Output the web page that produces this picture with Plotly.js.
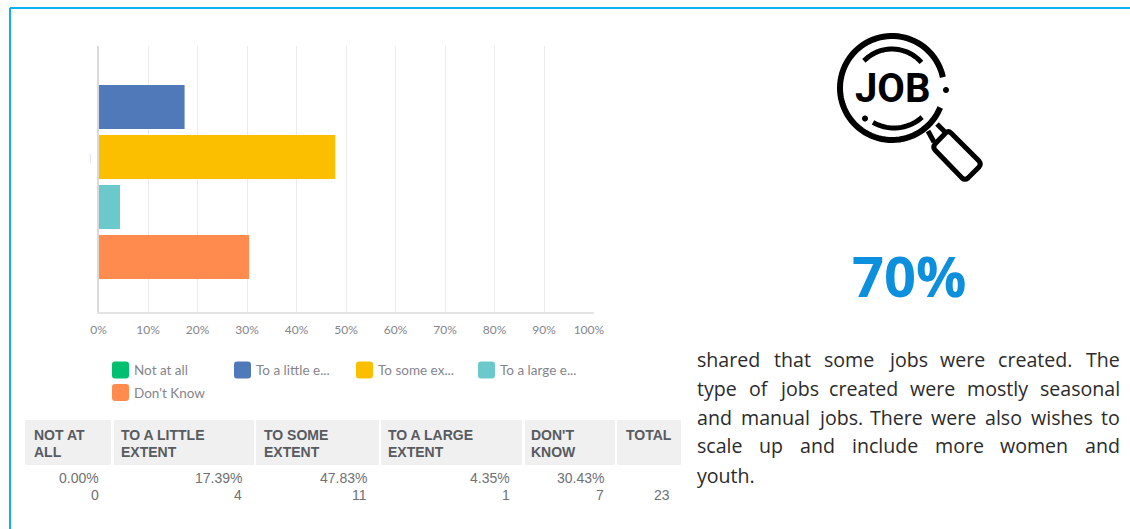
<!DOCTYPE html>
<html>
<head>
<meta charset="utf-8">
<script src="https://cdn.plot.ly/plotly-3.0.1.min.js"></script>
<style>html,body{margin:0;padding:0;background:#fff}#chart{width:1130px;height:529px}</style>
</head>
<body>
<div id="chart"></div>
<script>
// Survey responses
const answers = ["Not at all", "To a little extent", "To some extent", "To a large extent", "Don't Know"];
const percents = [0, 17.39, 47.83, 4.35, 30.43];
const counts = [0, 4, 11, 1, 7];
const total = 23;
const barColors = ["#00BF6F", "#4F79B8", "#FCBF00", "#6CC9CB", "#FF8B4F"];
const legendLabels = ["Not at all", "To a little e...", "To some ex...", "To a large e...", "Don't Know"];
const tickValues = [0, 10, 20, 30, 40, 50, 60, 70, 80, 90, 100];
const tickLabels = ["0%", "10%", "20%", "30%", "40%", "50%", "60%", "70%", "80%", "90%", "100%\u00A0\u00A0\u00A0"];

// Summary table
const headerLines = [["NOT AT", "ALL"], ["TO A LITTLE", "EXTENT"], ["TO SOME", "EXTENT"], ["TO A LARGE", "EXTENT"], ["DON'T", "KNOW"], ["TOTAL"]];
const headerCells = [[25, 111], [114, 254], [256, 379], [381, 522], [525, 615], [617, 681]];
const headerTextX = [34, 121, 264, 388, 531, 626];
const valueRightX = [99, 242, 367, 510, 604, 670];

// Side panel copy
const headline = "70%";
const bodyLines = [
  "shared that some jobs were created. The",
  "type of jobs created were mostly seasonal",
  "and manual jobs. There were also wishes to",
  "scale up and include more women and",
  "youth."
];

const W = 1130, H = 529;
const px = x => x / W;
const py = y => 1 - y / H;
const pt = (x, y) => `${px(x).toFixed(5)},${py(y).toFixed(5)}`;
const paperShape = o => Object.assign({xref: "paper", yref: "paper"}, o);

function label(x, y, text, o) {
  return Object.assign({
    xref: "paper", yref: "paper", x: px(x), y: py(y), text,
    showarrow: false, xanchor: "left", yanchor: "middle", borderpad: 0, borderwidth: 0
  }, o);
}

function rounded(x0, y0, x1, y1, r) {
  return `M ${pt(x0 + r, y0)} L ${pt(x1 - r, y0)} Q ${pt(x1, y0)} ${pt(x1, y0 + r)} L ${pt(x1, y1 - r)} ` +
         `Q ${pt(x1, y1)} ${pt(x1 - r, y1)} L ${pt(x0 + r, y1)} Q ${pt(x0, y1)} ${pt(x0, y1 - r)} ` +
         `L ${pt(x0, y0 + r)} Q ${pt(x0, y0)} ${pt(x0 + r, y0)} Z`;
}

function arc(cx, cy, r, fromDeg, toDeg) {
  const steps = Math.max(8, Math.round(Math.abs(toDeg - fromDeg) / 4));
  let d = "";
  for (let i = 0; i <= steps; i++) {
    const a = (fromDeg + (toDeg - fromDeg) * i / steps) * Math.PI / 180;
    d += (i ? " L " : "M ") + pt(cx + r * Math.cos(a), cy + r * Math.sin(a));
  }
  return d;
}

const shapes = [], annotations = [];

// Outer frame: only the top and left edges are visible
const frame = {color: "#0FB0F2", width: 2};
shapes.push(paperShape({type: "line", x0: px(10), x1: 1, y0: py(8), y1: py(8), line: frame}));
shapes.push(paperShape({type: "line", x0: px(10), x1: px(10), y0: py(8), y1: 0, line: frame}));

// Legend
const legendCols = [112, 234, 356, 478, 112];
const legendRows = [370, 370, 370, 370, 392.5];
legendLabels.forEach((t, i) => {
  const x = legendCols[i], y = legendRows[i];
  shapes.push(paperShape({type: "path", path: rounded(x, y - 8.5, x + 17, y + 8.5, 3), fillcolor: barColors[i], line: {width: 0}}));
  annotations.push(label(x + 22, y, t, {font: {family: "Lato", size: 13.5, color: "#85858C"}}));
});

// Table
const headFont = {family: "Liberation Sans", size: 14, color: "#585B60"};
const cellFont = {family: "Liberation Sans", size: 14, color: "#6F7175"};
headerCells.forEach((c, i) => {
  shapes.push(paperShape({type: "rect", x0: px(c[0]), x1: px(c[1]), y0: py(420), y1: py(465), fillcolor: "#F0F0F0", line: {width: 0}}));
  headerLines[i].forEach((t, j) => {
    annotations.push(label(headerTextX[i], 434.5 + j * 17, `<b>${t}</b>`, {font: headFont}));
  });
  const right = {xanchor: "right", font: cellFont};
  if (i < percents.length) {
    annotations.push(label(valueRightX[i], 478, percents[i].toFixed(2) + "%", right));
    annotations.push(label(valueRightX[i], 495, String(counts[i]), right));
  } else {
    annotations.push(label(valueRightX[i], 495, String(total), right));
  }
});

// Magnifying-glass icon
const ink = {color: "#000", width: 6};
const thin = {color: "#000", width: 5};
shapes.push(paperShape({type: "path", path: arc(892, 88, 52, 22, 348), line: ink}));
shapes.push(paperShape({type: "path", path: arc(892, 88, 39, 224, 319), line: thin}));
shapes.push(paperShape({type: "path", path: arc(894, 86, 42, 120, 48), line: thin}));
[[946, 90], [865, 118.5]].forEach(d => {
  shapes.push(paperShape({type: "path", path: arc(d[0], d[1], 3, 0, 360) + " Z", fillcolor: "#000", line: {width: 0}}));
});
shapes.push(paperShape({type: "path", path: `M ${pt(928, 131)} L ${pt(934, 142)}`, line: thin}));
shapes.push(paperShape({type: "path", path: `M ${pt(937, 124)} L ${pt(946, 133)}`, line: thin}));
shapes.push(paperShape({
  type: "path",
  path: `M ${pt(946, 132.5)} Q ${pt(948.5, 130.5)} ${pt(951, 133)} L ${pt(979, 161)} Q ${pt(981.5, 164)} ${pt(979, 167)} ` +
        `L ${pt(968, 178)} Q ${pt(965, 180.5)} ${pt(962, 178)} L ${pt(935, 150)} Q ${pt(932.5, 147)} ${pt(935, 144)} Z`,
  line: thin
}));
annotations.push(label(892.5, 88, "<b>JOB</b>", {xanchor: "center", font: {family: "Roboto", size: 40, color: "#000"}}));

// Headline figure
annotations.push(label(909, 275, `<b>${headline}</b>`, {xanchor: "center", font: {family: "Open Sans", size: 56, color: "#0C8FDD"}}));

// Justified body copy, one annotation per word so the lines fill the column
const bodyFont = {family: "Open Sans", size: 19.6, color: "#2B2B2B"};
const ctx = document.createElement("canvas").getContext("2d");
ctx.font = `${bodyFont.size}px "${bodyFont.family}"`;
const colLeft = 697, colRight = 1120, spaceWidth = ctx.measureText(" ").width;
bodyLines.forEach((line, i) => {
  const words = line.split(" ");
  const widths = words.map(w => ctx.measureText(w).width);
  const used = widths.reduce((a, b) => a + b, 0);
  const last = i === bodyLines.length - 1;
  const gap = last ? spaceWidth : (colRight - colLeft - used) / (words.length - 1);
  let x = colLeft;
  words.forEach((w, k) => {
    annotations.push(label(x, 359 + i * 29, w, {font: bodyFont}));
    x += widths[k] + gap;
  });
});

const traces = answers.map((name, i) => ({
  type: "bar", orientation: "h", name,
  x: [percents[i]], y: [0],
  marker: {color: barColors[i], line: {width: 0}},
  hovertemplate: "%{x:.2f}%<extra>" + name + "</extra>"
}));

const layout = {
  width: W, height: H,
  margin: {l: 0, r: 0, t: 0, b: 0},
  paper_bgcolor: "#fff", plot_bgcolor: "#fff",
  barmode: "group", bargap: 0, bargroupgap: 0.12,
  showlegend: false,
  xaxis: {
    domain: [px(98.5), px(593.5)], range: [0, 100],
    tickmode: "array", tickvals: tickValues, ticktext: tickLabels, tickangle: 0,
    showgrid: true, gridcolor: "#EBEBEB", gridwidth: 1,
    zeroline: false, showline: true, linecolor: "#E4E4E4", linewidth: 2,
    ticks: "", ticklabelstandoff: 6,
    tickfont: {family: "Lato", size: 12, color: "#85858C"}
  },
  yaxis: {
    domain: [py(312), py(46)], range: [0.62, -0.444],
    tickmode: "array", tickvals: [0], ticktext: ["|"], ticks: "",
    ticklabelstandoff: 3,
    tickfont: {family: "Lato", size: 10, color: "#DAD6F0"},
    showgrid: false, zeroline: false, showline: true, linecolor: "#DADADA", linewidth: 2
  },
  shapes, annotations
};

Plotly.newPlot("chart", traces, layout, {displayModeBar: false, responsive: false});
</script>
</body>
</html>
